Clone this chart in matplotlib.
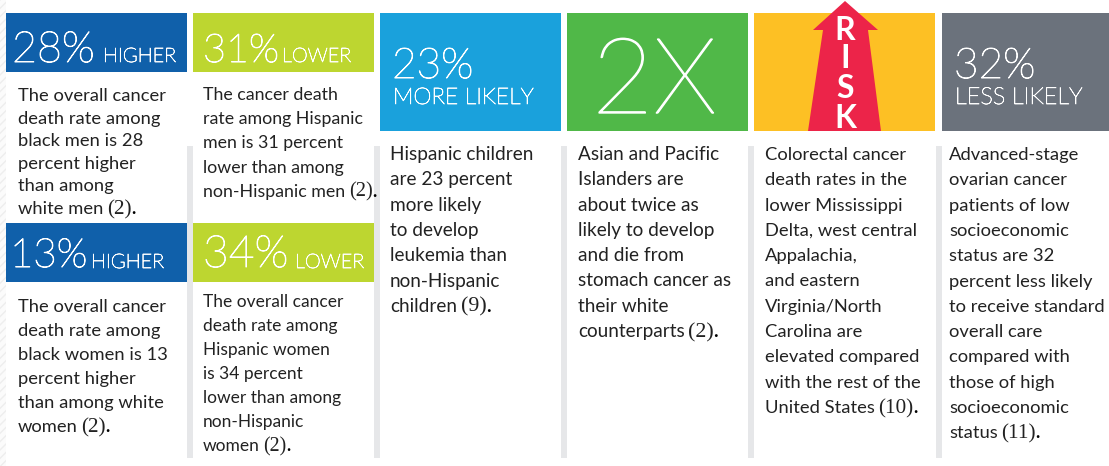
import matplotlib
matplotlib.use('Agg')
import matplotlib.pyplot as plt
import matplotlib.patheffects as pe
from matplotlib.patches import Rectangle, Polygon

BODY_FONT = 'Lato'
CITE_FONT = 'Liberation Serif'

# panel texts
panel_numbers = ['28%', '31%', '13%', '34%', '23%', '2X', '32%']
panel_words = ['HIGHER', 'LOWER', 'HIGHER', 'LOWER', 'MORE LIKELY', '', 'LESS LIKELY']
risk_letters = ['R', 'I', 'S', 'K']

text_black_men = ['The overall cancer', 'death rate among', 'black men is 28', 'percent higher',
                  'than among', 'white men (2).']
text_hisp_men = ['The cancer death', 'rate among Hispanic', 'men is 31 percent', 'lower than among',
                 'non-Hispanic men (2).']
text_black_women = ['The overall cancer', 'death rate among', 'black women is 13', 'percent higher',
                    'than among white', 'women (2).']
text_hisp_women = ['The overall cancer', 'death rate among', 'Hispanic women', 'is 34 percent',
                   'lower than among', 'non-Hispanic', 'women (2).']
text_children = ['Hispanic children', 'are 23 percent', 'more likely', 'to develop',
                 'leukemia than', 'non-Hispanic', 'children (9).']
text_asian = ['Asian and Pacific', 'Islanders are', 'about twice as', 'likely to develop',
              'and die from', 'stomach cancer as', 'their white', 'counterparts (2).']
text_risk = ['Colorectal cancer', 'death rates in the', 'lower Mississippi', 'Delta, west central',
             'Appalachia,', 'and eastern', 'Virginia/North', 'Carolina are', 'elevated compared',
             'with the rest of the', 'United States (10).']
text_ovarian = ['Advanced-stage', 'ovarian cancer', 'patients of low', 'socioeconomic',
                'status are 32', 'percent less likely', 'to receive standard', 'overall care',
                'compared with', 'those of high', 'socioeconomic', 'status (11).']

BLUE = '#1060AA'
LIME = '#BDD630'
CYAN = '#1AA1DC'
GREEN = '#50B848'
YELLOW = '#FDC024'
GREY = '#6B727C'
RED = '#EC2449'
DIVIDER = '#E6E7E9'
INK = '#222222'

W, H = 1109, 466
fig = plt.figure(figsize=(W / 100, H / 100), dpi=100)
ax = fig.add_axes([0, 0, 1, 1])
ax.set_xlim(0, W)
ax.set_ylim(H, 0)
ax.axis('off')
renderer = fig.canvas.get_renderer()


def box(x0, y0, x1, y1, color):
    ax.add_patch(Rectangle((x0, y0), x1 - x0, y1 - y0, facecolor=color, edgecolor='none'))


def white(x, y, s, size, stroke):
    # the light weight of Lato comes out as hairline, so thicken it a little
    t = ax.text(x, y, s, color='white', fontsize=size, family=BODY_FONT, fontweight='light',
                ha='left', va='baseline')
    t.set_path_effects([pe.withStroke(linewidth=stroke, foreground='white')])


def para(x, y, lines, step, size=13.2):
    for i, line in enumerate(lines):
        yy = y + i * step
        if '(' not in line:
            ax.text(x, yy, line, color=INK, fontsize=size, family=BODY_FONT, va='baseline')
            continue
        # citation numbers are set in a serif face
        head, cite = line.split('(')
        cite = '(' + cite[:-1]
        xx = x
        if head.strip():
            t = ax.text(xx, yy, head.strip(), color=INK, fontsize=size, family=BODY_FONT, va='baseline')
            xx = t.get_window_extent(renderer).x1 + 3.5
        t = ax.text(xx, yy, cite, color=INK, fontsize=size * 1.15, family=CITE_FONT, va='baseline')
        ax.text(t.get_window_extent(renderer).x1 - 0.5, yy, '.', color='black', fontsize=size,
                family=BODY_FONT, fontweight='bold', va='baseline')


# hatched strip down the left edge
ax.add_patch(Rectangle((0, 0), 6, H, facecolor='#FBFBFB', edgecolor='#EEEEEE',
                       hatch='////', linewidth=0))

# dividers between columns
for x0 in [187, 374, 561, 748, 936]:
    box(x0, 146, x0 + 6, 458, DIVIDER)

# colored headers
box(6, 13, 187, 72, BLUE)
box(193, 13, 374, 72, LIME)
box(6, 223, 187, 282, BLUE)
box(193, 223, 374, 282, LIME)
box(380, 13, 561, 131, CYAN)
box(567, 13, 748, 131, GREEN)
box(754, 13, 935, 131, YELLOW)
box(942, 13, 1109, 131, GREY)

# risk arrow
ax.add_patch(Polygon([(808, 131), (823, 30), (813, 30), (845, 1), (878, 30), (868, 30), (881, 131)],
                     closed=True, facecolor=RED, edgecolor='none'))
for letter, y in zip(risk_letters, [40, 68, 98, 128]):
    ax.text(845, y, letter, color='white', fontsize=23, family=BODY_FONT, fontweight='bold',
            ha='center', va='baseline')

# header text
white(12, 62, panel_numbers[0], 31, 0.7)
white(103, 62, panel_words[0], 14.4, 0.5)
white(203, 62, panel_numbers[1], 28.5, 0.7)
white(282, 62, panel_words[1], 14.4, 0.5)
white(10, 267, panel_numbers[2], 29, 0.7)
white(91, 268, panel_words[2], 14.4, 0.5)
white(203, 267, panel_numbers[3], 32, 0.7)
white(295, 268, panel_words[3], 14.4, 0.5)
white(392, 78, panel_numbers[4], 30.5, 0.7)
white(393, 104, panel_words[4], 16.5, 0.5)
white(592, 113, panel_numbers[5], 76, 1.0)
white(954, 78, panel_numbers[6], 30.5, 0.7)
white(955, 104, panel_words[6], 16.9, 0.5)

# body text
para(18, 101, text_black_men, 22.6)
para(203, 100, text_hisp_men, 24.2, 12.8)
para(18, 312, text_black_women, 24)
para(203, 307, text_hisp_women, 24, 12.5)
para(390, 160, text_children, 25.3, 13.7)
para(578, 160, text_asian, 25.3, 13.7)
para(765, 160, text_risk, 25.3)
para(949, 160, text_ovarian, 25.3)

fig.savefig('out.png', dpi=100)
